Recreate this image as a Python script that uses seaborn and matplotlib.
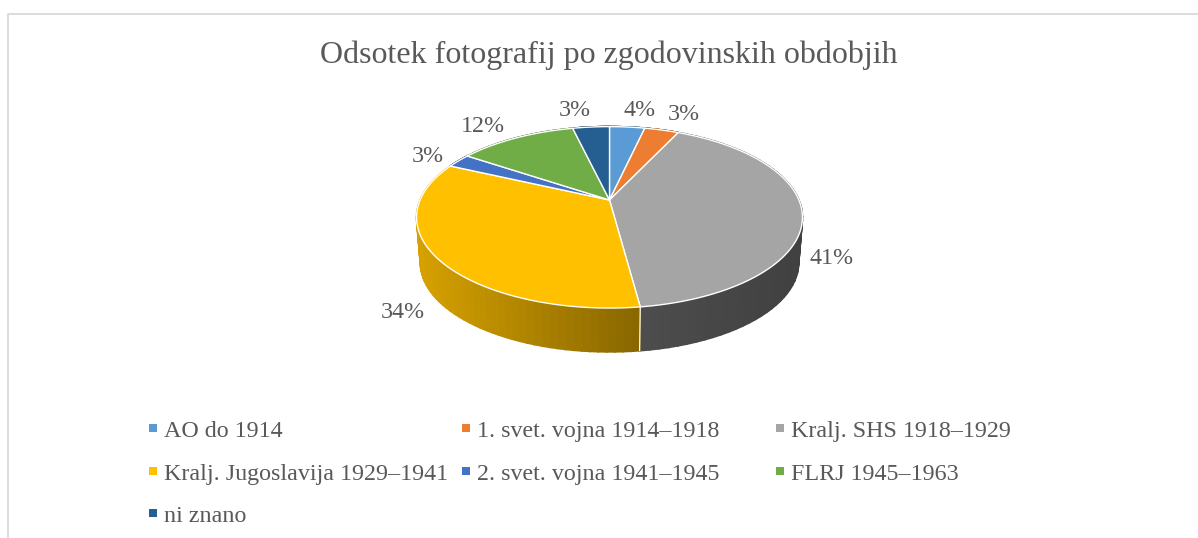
import numpy as np
import pandas as pd
import matplotlib
matplotlib.use("Agg")
import matplotlib.pyplot as plt
import seaborn as sns

# Slice shares (labels are the rounded ones Excel shows)
categories = ["AO do 1914", "1. svet. vojna 1914–1918", "Kralj. SHS 1918–1929",
              "Kralj. Jugoslavija 1929–1941", "2. svet. vojna 1941–1945",
              "FLRJ 1945–1963", "ni znano"]
shares = [3.55, 3.45, 40.9, 34.0, 2.5, 11.9, 3.7]
value_labels = ["4%", "3%", "41%", "34%", "3%", "12%", "3%"]
colours = ["#5b9bd5", "#ed7d31", "#a5a5a5", "#ffc000", "#4472c4", "#70ad47", "#255e91"]

title = "Odsotek fotografij po zgodovinskih obdobjih"

# Layout, in image pixels (text positions are baselines)
CX, CY = 609.5, 200.0
A, B, K = 189.4, 87.4, 0.191
LOWER_CY, LOWER_SCALE = 246.0, 0.98
label_pos = [(640, 116.5), (684, 120), (832, 264), (403, 318), (427.5, 162.5), (483, 132.5), (575, 116.5)]
legend_cols = [(153, 164), (466, 477), (780, 791)]
legend_rows = [428, 471, 513]
legend_baselines = [437, 480, 522]
# wall brightness from left to right end of each slice's wall
wall_shade = {2: (0.47, 0.39), 3: (0.84, 0.54)}
TEXT = "#595959"

sns.set_theme(style="white")
plt.rcParams["font.family"] = ["Liberation Serif", "DejaVu Serif"]


def project(theta, cy=CY, scale=1.0):
    # theta clockwise from the top of the pie; front of the pie is drawn larger
    x, y = np.sin(theta), -np.cos(theta)
    w = 1 - K * y
    return CX + scale * A * x / w, cy + scale * B * y / w


fig = plt.figure(figsize=(11.98, 5.38), dpi=100)
ax = fig.add_axes([0, 0, 1, 1])

# Chart frame (only top and left are in the crop)
ax.plot([8, 8, 1198], [538, 14, 14], color="#d9d9d9", lw=1.3, zorder=1)

edges = np.radians(np.concatenate([[0], np.cumsum(shares)]) * 3.6)

# Side walls, thin strips so the shading can run along them
for i, col in enumerate(colours):
    base = np.array(matplotlib.colors.to_rgb(col))
    angles = np.linspace(edges[i], edges[i + 1], 60)
    tx, ty = project(angles)
    lx, ly = project(angles, LOWER_CY, LOWER_SCALE)
    start, end = wall_shade.get(i, (0.6, 0.6))
    for j in range(len(angles) - 1):
        t = (tx[j] - tx.min()) / max(np.ptp(tx), 1)
        f = start + (end - start) * t
        ax.fill([tx[j], tx[j + 1], lx[j + 1], lx[j]], [ty[j], ty[j + 1], ly[j + 1], ly[j]],
                color=base * f, lw=1.2, zorder=2)

# Front seam between the two visible walls
sx0, sy0 = project(edges[3])
sx1, sy1 = project(edges[3], LOWER_CY, LOWER_SCALE)
ax.plot([sx0, sx1], [sy0, sy1], color="white", lw=0.9, zorder=3)

# Top face
for i, col in enumerate(colours):
    angles = np.linspace(edges[i], edges[i + 1], 120)
    x, y = project(angles)
    ax.fill(np.r_[CX, x], np.r_[CY, y], facecolor=col, edgecolor="white", lw=1.0,
            joinstyle="round", zorder=4)

for pos, lab in zip(label_pos, value_labels):
    ax.text(pos[0], pos[1], lab, ha="center", va="baseline", fontsize=17.3, color=TEXT, zorder=5)

ax.text(609, 63.5, title, ha="center", va="baseline", fontsize=23, color=TEXT)

# Legend laid out by hand, the columns in the original are not evenly spaced
rows = [legend_rows[i // 3] for i in range(len(categories))]
bases = [legend_baselines[i // 3] for i in range(len(categories))]
cols = [legend_cols[i % 3] for i in range(len(categories))]
legend_df = pd.DataFrame({"name": categories, "x": [c[0] for c in cols], "y": rows})
sns.scatterplot(data=legend_df, x="x", y="y", hue="name", palette=colours, marker="s",
                s=27, linewidth=0, legend=False, ax=ax, zorder=5)
for c, b, name in zip(cols, bases, categories):
    ax.text(c[1], b, name, ha="left", va="baseline", fontsize=17.3, color=TEXT)

ax.set_xlim(0, 1198)
ax.set_ylim(538, 0)
ax.axis("off")
fig.savefig("out.png", dpi=100, facecolor="white")
plt.close()
